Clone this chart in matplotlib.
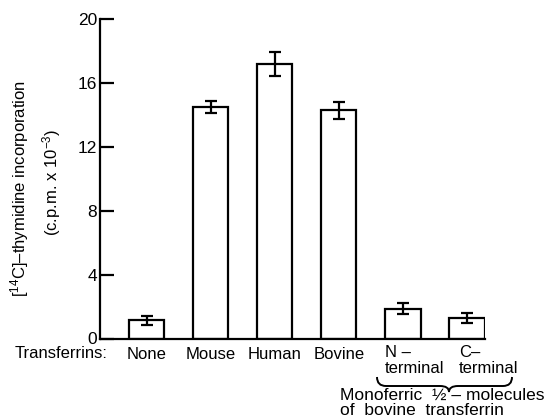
import numpy as np
import matplotlib
matplotlib.use("Agg")
import matplotlib.pyplot as plt
from matplotlib.path import Path
from matplotlib.patches import PathPatch

plt.rcParams['font.family'] = ['Liberation Sans', 'DejaVu Sans']
plt.rcParams['mathtext.fontset'] = 'custom'
plt.rcParams['mathtext.rm'] = 'Liberation Sans'
plt.rcParams['mathtext.it'] = 'Liberation Sans'

# thymidine incorporation per transferrin source
categories = ["None", "Mouse", "Human", "Bovine", "N \u2013\nterminal", "C\u2013\nterminal"]
cpm = [1.13, 14.5, 17.2, 14.3, 1.86, 1.27]
cpm_err = [0.28, 0.38, 0.78, 0.52, 0.35, 0.31]
yticks = [0, 4, 8, 12, 16, 20]

W, H = 546, 420
fig = plt.figure(figsize=(W / 100, H / 100), dpi=100)


def fx(px):
    return px / W


def fy(py):
    return 1 - py / H


ax = fig.add_axes([fx(100), fy(338.5), fx(385), (338.5 - 19.3) / H])
x = np.arange(len(categories))
ax.bar(x, cpm, width=0.55, color='white', edgecolor='black', linewidth=1.6, zorder=2)
ax.errorbar(x, cpm, yerr=cpm_err, fmt='none', ecolor='black', elinewidth=1.6,
            capsize=4.5, capthick=1.6, zorder=3)

ax.set_xlim(-0.727, 5.28)
ax.set_ylim(0, 20)
ax.spines['top'].set_visible(False)
ax.spines['right'].set_visible(False)
ax.spines['left'].set_linewidth(1.6)
ax.spines['bottom'].set_linewidth(1.6)
ax.set_yticks(yticks)
ax.tick_params(axis='y', direction='in', length=10, width=1.6, labelsize=12.5, pad=2)

# plain tick labels for whole molecules; half molecules drawn separately
ax.set_xticks(x[:4])
ax.set_xticklabels(categories[:4], fontsize=12)
ax.tick_params(axis='x', length=0, pad=6)

fig.text(fx(15), fy(358), "Transferrins:", fontsize=12, ha='left', va='baseline')
fig.text(fx(385), fy(345), categories[4], fontsize=12, ha='left', va='top',
         linespacing=1.05)
fig.text(fx(459), fy(345), categories[5], fontsize=12, ha='left', va='top',
         linespacing=1.05)

# curly brace under the half-molecule labels
x0, x1, xm = fx(377), fx(512), fx(449)
yt, ym, yb = fy(377), fy(386), fy(392)
r = fx(9)
verts = [(x0, yt), (x0, ym), (x0 + r, ym), (xm - r, ym), (xm, ym), (xm, yb),
         (xm, ym), (xm + r, ym), (x1 - r, ym), (x1, ym), (x1, yt)]
codes = [Path.MOVETO, Path.CURVE3, Path.CURVE3, Path.LINETO, Path.CURVE3, Path.CURVE3,
         Path.CURVE3, Path.CURVE3, Path.LINETO, Path.CURVE3, Path.CURVE3]
fig.patches.append(PathPatch(Path(verts, codes), transform=fig.transFigure,
                             facecolor='none', edgecolor='black', lw=1.4))

fig.text(fx(340), fy(388), "Monoferric  \u00bd \u2013 molecules\nof  bovine  transferrin",
         fontsize=12.5, ha='left', va='top', linespacing=0.98)

fig.text(fx(20), fy(189), "[$^{14}$C]\u2013thymidine incorporation", fontsize=12,
         rotation=90, ha='center', va='center')
fig.text(fx(52), fy(182), "(c.p.m. x 10$^{-3}$)", fontsize=12,
         rotation=90, ha='center', va='center')

fig.savefig("out.png", dpi=100)
